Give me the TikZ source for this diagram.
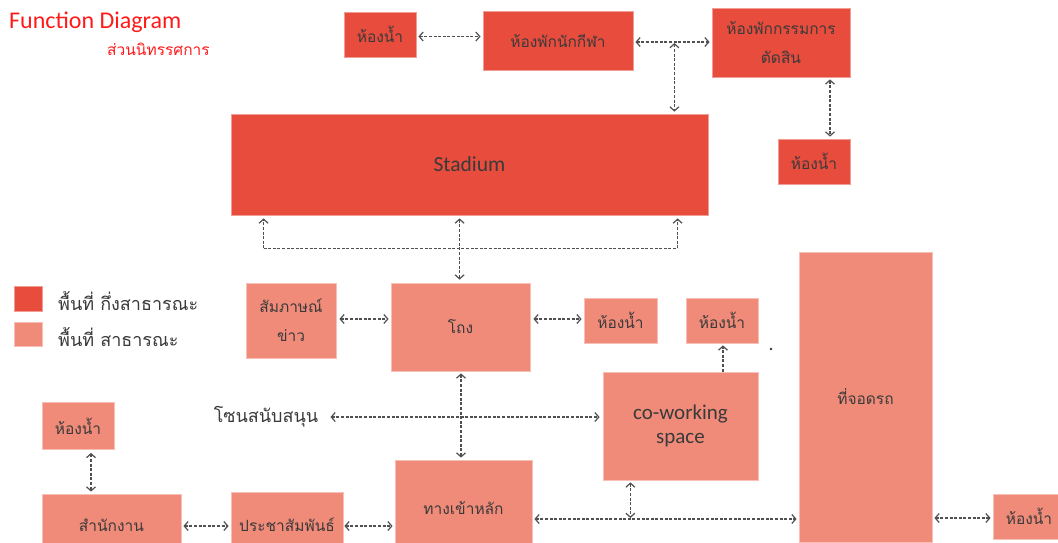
\documentclass[tikz,border=0pt]{standalone}
\usepackage{fontspec}
\setmainfont{Carlito}
\newfontfamily\thai[Script=Thai]{Loma}
\usetikzlibrary{arrows.meta,calc}
\definecolor{semi}{HTML}{E84C3D}
\definecolor{pub}{HTML}{F08B79}
\definecolor{txt}{HTML}{3A3A3A}
\definecolor{ln}{HTML}{505050}
\definecolor{ttl}{HTML}{FF1A1A}
\begin{document}
\begin{tikzpicture}[x=1pt,y=-1pt,
  box/.style={rectangle, inner sep=0pt, draw=white!45!#1, line width=0.8pt, fill=#1, text=txt, align=center, font=\thai\fontsize{15.5}{29}\selectfont},
  semibox/.style={box=semi},
  pubbox/.style={box=pub},
  tip/.tip={Straight Barb[length=4pt,width=9pt,line width=1.2pt]},
  base/.style={draw=ln, line width=1.15pt, dash pattern=on 3pt off 1.6pt},
  conn/.style={base, tip-tip},
  conn1/.style={base, -tip},
  plain/.style={base},
  lbl/.style={anchor=west, text=txt, inner sep=0pt, font=\thai\fontsize{18}{22}\selectfont}]
\clip (0,0) rectangle (1058,542);
\fill[white] (0,0) rectangle (1058,542);

% titles
\node[anchor=west, text=ttl, inner sep=0pt, font=\fontsize{24}{28}\selectfont] (title) at (9,22) {Function Diagram};
\node[anchor=west, text=ttl, inner sep=0pt, font=\thai\fontsize{15.5}{18}\selectfont] (sub) at (107,49) {ส่วนนิทรรศการ};

% top row
\node[semibox, minimum width=72pt, minimum height=45pt] (wc1) at (380,34.5) {ห้องน้ำ};
\node[semibox, minimum width=150pt, minimum height=59pt] (athlete) at (558,40.5) {ห้องพักนักกีฬา};
\node[semibox, minimum width=138pt, minimum height=69pt] (judges) at (781,42.5) {ห้องพักกรรมการ\\ตัดสิน};
\node[semibox, minimum width=72pt, minimum height=45pt] (wc2) at (814,161.5) {ห้องน้ำ};
\node[semibox, minimum width=477pt, minimum height=101pt, font=\fontsize{21.5}{25}\selectfont] (stadium) at (469.5,164.5) {Stadium};

% legend
\node[fill=semi, draw=white!45!semi, line width=0.8pt, minimum width=28pt, minimum height=25pt, inner sep=0pt] (leg1) at (28,298.5) {};
\node[fill=pub, draw=white!45!pub, line width=0.8pt, minimum width=28pt, minimum height=24pt, inner sep=0pt] (leg2) at (28,334.5) {};
\node[lbl] (legt1) at (58,301) {พื้นที่ กึ่งสาธารณะ};
\node[lbl] (legt2) at (58,337) {พื้นที่ สาธารณะ};

% middle
\node[pubbox, minimum width=90pt, minimum height=75pt] (interview) at (291,320.5) {สัมภาษณ์\\ข่าว};
\node[pubbox, minimum width=139pt, minimum height=88pt] (hall) at (460.5,327) {โถง};
\node[pubbox, minimum width=73pt, minimum height=45pt] (wc3) at (620.5,320.5) {ห้องน้ำ};
\node[pubbox, minimum width=72pt, minimum height=45pt] (wc4) at (722,320.5) {ห้องน้ำ};
\node[pubbox, minimum width=155pt, minimum height=108pt, font=\fontsize{21}{24}\selectfont] (cowork) at (680.5,426) {co-working\\space};
\node[pubbox, minimum width=133pt, minimum height=290pt] (parking) at (865.5,397) {ที่จอดรถ};
\node[anchor=center, text=txt, inner sep=0pt, font=\thai\fontsize{18}{22}\selectfont] (support) at (266,417) {โซนสนับสนุน};
\fill[black!80] (771,349) circle (1.3pt);

% bottom
\node[pubbox, minimum width=72pt, minimum height=47pt] (wc5) at (78,426) {ห้องน้ำ};
\node[pubbox, minimum width=139pt, minimum height=62pt] (office) at (111.5,525) {สำนักงาน};
\node[pubbox, minimum width=112pt, minimum height=66pt] (pr) at (287,525) {ประชาสัมพันธ์};
\node[pubbox, minimum width=137pt, minimum height=96pt] (entrance) at (463.5,508) {ทางเข้าหลัก};
\node[pubbox, minimum width=72pt, minimum height=45pt] (wc6) at (1029,516.5) {ห้องน้ำ};

% connectors top
\draw[conn] ($(wc1.east)+(2,2)$) -- ($(athlete.west)+(-2,-4)$);
\coordinate (j1) at ($(athlete.east)+(41,1.5)$);
\draw[conn] ($(athlete.east)+(2,1.5)$) -- ($(judges.west)+(-2,-0.5)$);
\draw[conn] ($(j1)+(0,1)$) -- ($(j1 |- stadium.north)+(0,-2)$);
\draw[conn] ($(judges.south)+(49,2)$) -- ($(wc2.north)+(16,-2)$);

% stadium bottom
\coordinate (sb1) at ($(stadium.south west)+(33,33)$);
\coordinate (sb2) at ($(stadium.south west)+(229,33)$);
\coordinate (sb3) at ($(stadium.south west)+(447,33)$);
\draw[plain] (sb1) -- (sb3);
\draw[conn1] (sb1) -- ($(sb1 |- stadium.south)+(0,3)$);
\draw[conn1] (sb3) -- ($(sb3 |- stadium.south)+(0,3)$);
\draw[conn] ($(sb2 |- stadium.south)+(0,3)$) -- ($(sb2 |- hall.north)+(0,-3)$);

% middle connectors
\draw[conn] ($(interview.east)+(3,-1.5)$) -- ($(hall.west)+(-2,-8)$);
\draw[conn] ($(hall.east)+(3,-8)$) -- ($(wc3.west)+(-2,-1.5)$);
\draw[conn1] ($(cowork.north)+(42.5,0)$) -- ($(wc4.south)+(1,2)$);
\draw[conn] ($(support.east)+(12,0)$) -- ($(cowork.west)+(-3,-9)$);
\draw[conn] ($(hall.south)+(0.5,2)$) -- ($(entrance.north)+(-2.5,-2)$);

% bottom connectors
\draw[conn] ($(wc5.south)+(13,3)$) -- ($(office.north)+(-20.5,-2)$);
\draw[conn] ($(office.east)+(2,1)$) -- ($(pr.west)+(-2,1)$);
\draw[conn] ($(pr.east)+(1,1)$) -- ($(entrance.west)+(-2,18)$);
\draw[conn] ($(entrance.east)+(2,11)$) -- ($(parking.west)+(-2,122)$);
\coordinate (cj) at ($(entrance.east)+(98,11)$);
\draw[conn] ($(cj |- cowork.south)+(0,2)$) -- ($(cj)+(0,-1)$);
\draw[conn] ($(parking.east)+(2,121)$) -- ($(wc6.west)+(-2,1.5)$);
\end{tikzpicture}
\end{document}
